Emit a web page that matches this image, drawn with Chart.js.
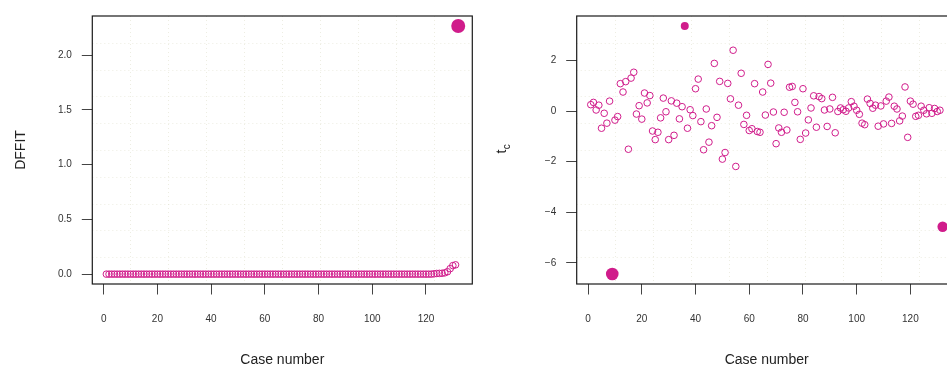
<!DOCTYPE html>
<html>
<head>
<meta charset="utf-8">
<script src="https://cdn.jsdelivr.net/npm/chart.js@4.4.1/dist/chart.umd.min.js"></script>
<style>
  html, body { margin: 0; padding: 0; background: #fff; overflow: hidden; width: 947px; height: 368px; }
  canvas { position: absolute; top: 0; }
  #dffitChart { left: 0; }
  #tcChart { left: 480px; }
</style>
</head>
<body>
<canvas id="dffitChart" width="480" height="368"></canvas>
<canvas id="tcChart" width="500" height="368"></canvas>
<script>
// DFFIT per case (cases 1..132)
const dffit = [
  0, 0, 0, 0, 0, 0, 0, 0, 0, 0,
  0, 0, 0, 0, 0, 0, 0, 0, 0, 0,
  0, 0, 0, 0, 0, 0, 0, 0, 0, 0,
  0, 0, 0, 0, 0, 0, 0, 0, 0, 0,
  0, 0, 0, 0, 0, 0, 0, 0, 0, 0,
  0, 0, 0, 0, 0, 0, 0, 0, 0, 0,
  0, 0, 0, 0, 0, 0, 0, 0, 0, 0,
  0, 0, 0, 0, 0, 0, 0, 0, 0, 0,
  0, 0, 0, 0, 0, 0, 0, 0, 0, 0,
  0, 0, 0, 0, 0, 0, 0, 0, 0, 0,
  0, 0, 0, 0, 0, 0, 0, 0, 0, 0,
  0, 0, 0, 0, 0, 0, 0, 0, 0, 0,
  0, 0, 0.003, 0.006, 0.007, 0.008, 0.012, 0.022, 0.05, 0.078,
  0.085, 2.265
];

// Studentized residual t_c per case (cases 1..132)
const tc = [
  0.25, 0.34, 0.04, 0.23, -0.68, -0.09, -0.48, 0.39, -6.44, -0.36,
  -0.22, 1.08, 0.75, 1.16, -1.51, 1.30, 1.53, -0.12, 0.21, -0.32,
  0.71, 0.32, 0.61, -0.79, -1.13, -0.84, -0.27, 0.51, -0.03, -1.13,
  0.40, -0.96, 0.31, -0.31, 0.17, 3.36, -0.68, 0.05, -0.18, 0.88,
  1.26, -0.42, -1.53, 0.08, -1.23, -0.58, 1.88, -0.25, 1.17, -1.90,
  -1.64, 1.09, 0.48, 2.40, -2.19, 0.23, 1.49, -0.53, -0.17, -0.77,
  -0.70, 1.08, -0.81, -0.84, 0.75, -0.16, 1.84, 1.10, -0.04, -1.29,
  -0.67, -0.84, -0.05, -0.75, 0.94, 0.97, 0.34, -0.03, -1.12, 0.88,
  -0.87, -0.35, 0.12, 0.60, -0.64, 0.57, 0.49, 0.04, -0.61, 0.08,
  0.54, -0.86, -0.02, 0.12, 0.05, -0.01, 0.12, 0.37, 0.19, 0.03,
  -0.13, -0.48, -0.54, 0.47, 0.30, 0.11, 0.23, -0.60, 0.20, -0.51,
  0.39, 0.55, -0.49, 0.19, 0.08, -0.39, -0.20, 0.95, -1.04, 0.39,
  0.27, -0.21, -0.17, 0.19, 0.03, -0.11, 0.13, -0.09, 0.10, -0.02,
  0.03, -4.57
];

// Axis ticks and limits
const caseTicks = [0, 20, 40, 60, 80, 100, 120];
const dffitTicks = [0, 0.5, 1, 1.5, 2];
const tcTicks = [-6, -4, -2, 0, 2];
const caseLimits = [-4.24, 137.24];
const dffitLimits = [-0.09, 2.356];
const tcLimits = [-6.832, 3.752];

// Influential cases drawn as filled dots, with their dot radii
const dffitFlagged = [132];
const dffitFlagRadius = [7];
const tcFlagged = [9, 36, 132];
const tcFlagRadius = [6.3, 4, 5.2];

const MAGENTA = '#D01C8B';
const FONT = "'Liberation Sans', Arial, Helvetica, sans-serif";

// Split the cases into open circles and filled (flagged) dots
function buildDatasets(values, flagged, flagRadius) {
  const pts = values.map((v, i) => ({ x: i + 1, y: v }));
  return [
    {
      data: pts.filter(p => !flagged.includes(p.x)),
      showLine: false,
      pointStyle: 'circle',
      pointRadius: 3.3,
      pointBorderWidth: 1,
      pointBorderColor: MAGENTA,
      pointBackgroundColor: 'rgba(0,0,0,0)',
      clip: false
    },
    {
      data: flagged.map(c => pts[c - 1]),
      showLine: false,
      pointStyle: 'circle',
      pointRadius: flagRadius,
      pointBorderWidth: 0,
      pointBorderColor: MAGENTA,
      pointBackgroundColor: MAGENTA,
      clip: false
    }
  ];
}

// Dotted 10x10 background grid and the surrounding box
const frameGrid = {
  id: 'frameGrid',
  beforeDatasetsDraw(chart) {
    const { ctx, chartArea: a, scales: { x, y } } = chart;
    ctx.save();
    ctx.strokeStyle = 'rgba(215,215,190,0.45)';
    ctx.lineWidth = 1;
    ctx.setLineDash([1, 3]);
    for (let k = 1; k < 10; k++) {
      const px = Math.round(x.getPixelForValue(x.min + k * (x.max - x.min) / 10)) + 0.5;
      ctx.beginPath(); ctx.moveTo(px, a.top); ctx.lineTo(px, a.bottom); ctx.stroke();
      const py = Math.round(y.getPixelForValue(y.min + k * (y.max - y.min) / 10)) + 0.5;
      ctx.beginPath(); ctx.moveTo(a.left, py); ctx.lineTo(a.right, py); ctx.stroke();
    }
    ctx.restore();
  },
  afterDatasetsDraw(chart) {
    const { ctx, chartArea: a } = chart;
    ctx.save();
    ctx.strokeStyle = '#1a1a1a';
    ctx.lineWidth = 1.2;
    ctx.strokeRect(a.left, a.top, a.right - a.left, a.bottom - a.top);
    ctx.restore();
  }
};

// y-axis title "t" with subscript "c", written sideways
const tcTitle = {
  id: 'tcTitle',
  afterDraw(chart) {
    const ctx = chart.ctx;
    ctx.save();
    ctx.translate(26, 153.5);
    ctx.rotate(-Math.PI / 2);
    ctx.fillStyle = '#222';
    ctx.textAlign = 'left';
    ctx.textBaseline = 'alphabetic';
    ctx.font = '14px ' + FONT;
    ctx.fillText('t', 0, 0);
    const w = ctx.measureText('t').width;
    ctx.font = '10px ' + FONT;
    ctx.fillText('c', w + 0.3, 4);
    ctx.restore();
  }
};

function makeChart(id, values, flagged, flagRadius, yLimits, yTicks, yFormat, yTitle, yWidth, padRight, extraPlugins) {
  return new Chart(document.getElementById(id), {
    type: 'scatter',
    data: { datasets: buildDatasets(values, flagged, flagRadius) },
    plugins: [frameGrid].concat(extraPlugins),
    options: {
      responsive: false,
      animation: false,
      events: [],
      layout: { padding: { left: 0, right: padRight, top: 12.3, bottom: 0 } },
      plugins: { legend: { display: false }, tooltip: { enabled: false } },
      scales: {
        x: {
          type: 'linear',
          min: caseLimits[0],
          max: caseLimits[1],
          afterBuildTicks: s => { s.ticks = caseTicks.map(v => ({ value: v })); },
          afterFit: s => { s.height = 84; },
          border: { display: false },
          grid: { drawOnChartArea: false, drawTicks: true, tickLength: 10.5, color: '#444', lineWidth: 1 },
          ticks: {
            autoSkip: false, maxRotation: 0, padding: 18.5, color: '#333',
            font: { family: FONT, size: 10 },
            callback: v => String(v)
          },
          title: {
            display: true, text: 'Case number', color: '#222',
            font: { family: FONT, size: 14 }, padding: { top: 0, bottom: -0.5 }
          }
        },
        y: {
          type: 'linear',
          min: yLimits[0],
          max: yLimits[1],
          afterBuildTicks: s => { s.ticks = yTicks.map(v => ({ value: v })); },
          afterFit: s => { s.width = yWidth; },
          border: { display: false },
          grid: { drawOnChartArea: false, drawTicks: true, tickLength: 10.5, color: '#444', lineWidth: 1 },
          ticks: {
            autoSkip: false, padding: 10, color: '#333',
            font: { family: FONT, size: 10 },
            callback: yFormat
          },
          title: {
            display: !!yTitle, text: yTitle || '', color: '#222',
            font: { family: FONT, size: 14 }, padding: { top: 13.2, bottom: 0 }
          }
        }
      }
    }
  });
}

makeChart('dffitChart', dffit, dffitFlagged, dffitFlagRadius,
  dffitLimits, dffitTicks, v => Number(v).toFixed(1), 'DFFIT', 92.3, 7.7, []);

makeChart('tcChart', tc, tcFlagged, tcFlagRadius,
  tcLimits, tcTicks, v => String(v).replace('-', '\u2212'), null, 96.7, 23.3, [tcTitle]);
</script>
</body>
</html>
